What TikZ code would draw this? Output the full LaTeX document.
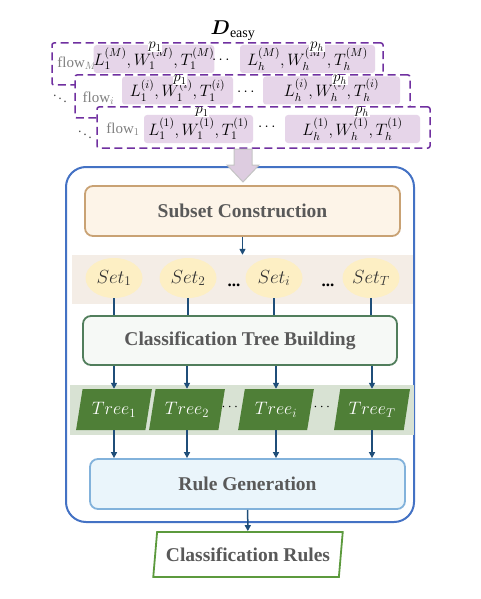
\RequirePackage{fix-cm}
\documentclass[tikz,border=0pt]{standalone}
\usepackage{amsmath}
\usepackage{fontspec}
\setmainfont{Liberation Serif}
\usetikzlibrary{arrows.meta, calc, shapes.geometric}

\definecolor{flowpurple}{HTML}{7030A0}
\definecolor{cellpink}{HTML}{E6D5E9}
\definecolor{mainblue}{HTML}{4472C4}
\definecolor{arrowblue}{HTML}{1F4E79}
\definecolor{subsetfill}{HTML}{FDF4E8}
\definecolor{subsetdraw}{HTML}{C9A274}
\definecolor{setband}{HTML}{F4EDE6}
\definecolor{setfill}{HTML}{FDEFC4}
\definecolor{treebuildfill}{HTML}{F6F9F6}
\definecolor{treebuilddraw}{HTML}{517E5C}
\definecolor{treeband}{HTML}{D8E2D3}
\definecolor{treefill}{HTML}{4F7F37}
\definecolor{rulefill}{HTML}{EAF5FB}
\definecolor{ruledraw}{HTML}{82B2DB}
\definecolor{rulesdraw}{HTML}{5C9A3D}
\definecolor{txtgray}{HTML}{595959}
\definecolor{blockfill}{HTML}{DDCCE0}
\definecolor{blockdraw}{HTML}{C4C4C4}

\begin{document}
\begin{tikzpicture}[x=1pt, y=-1pt, >={Triangle[length=6pt, width=6pt]},
  flowbox/.style={draw=flowpurple, dash pattern=on 8pt off 4.5pt, line width=1.5pt, fill=white, rounded corners=2pt, inner sep=0pt},
  cell/.style={fill=cellpink, rounded corners=3pt, minimum height=28pt, inner sep=0pt, font=\fontsize{16.5}{18}\selectfont},
  plabel/.style={fill=white, inner sep=0.8pt, font=\fontsize{15}{17}\selectfont},
  flowlabel/.style={text=gray, inner sep=0pt, font=\fontsize{15}{17}\selectfont},
  stage/.style={rounded corners=8pt, line width=1.8pt, minimum width=315pt, minimum height=50pt, font=\fontsize{19.5}{22}\selectfont\bfseries, text=txtgray},
  setnode/.style={ellipse, fill=setfill, minimum width=57pt, minimum height=40pt, inner sep=0pt, text=black!80, font=\fontsize{19}{21}\selectfont},
  treenode/.style={trapezium, trapezium left angle=73, trapezium right angle=107, trapezium stretches=true, fill=treefill, minimum width=76pt, minimum height=41pt, inner sep=0pt, text=white, font=\fontsize{18}{20}\selectfont},
  strip/.style={inner sep=0pt, minimum height=49pt},
  link/.style={arrowblue, line width=1.5pt},
  ]
  \useasboundingbox (0,0) rectangle (480,599);

  \node[font=\fontsize{20}{22}\selectfont] (deasy) at (233,31) {$\boldsymbol{D}_{\mathrm{easy}}$};

  \node[flowbox, minimum width=331pt, minimum height=42pt] (flowMbox) at (217.5,64) {};
  \node[flowlabel] (flowM) at (77,63) {flow$_M$};
  \node[cell, minimum width=112pt] (cellM1) at (154,59) {$L_1^{(M)},W_1^{(M)},T_1^{(M)}$};
  \node[font=\fontsize{15}{17}\selectfont] (dotsM) at (222,60) {$\cdots$};
  \node[cell, minimum width=135pt] (cellMh) at (307.5,59) {$L_h^{(M)},W_h^{(M)},T_h^{(M)}$};
  \node[plabel] (pM1) at (155,47) {$p_1$};
  \node[plabel] (pMh) at (317,47) {$p_h$};

  \node[flowbox, minimum width=335pt, minimum height=43pt] (flowibox) at (242.5,96.5) {};
  \node[flowlabel] (flowi) at (98.5,98) {flow$_i$};
  \node[cell, minimum width=111pt] (celli1) at (177.5,90.5) {$L_1^{(i)},W_1^{(i)},T_1^{(i)}$};
  \node[font=\fontsize{15}{17}\selectfont] (dotsi) at (247,92) {$\cdots$};
  \node[cell, minimum width=137pt] (cellih) at (331.5,90.5) {$L_h^{(i)},W_h^{(i)},T_h^{(i)}$};
  \node[plabel] (pi1) at (180,80) {$p_1$};
  \node[plabel] (pih) at (340,80) {$p_h$};

  \node[flowbox, minimum width=333pt, minimum height=41pt] (flow1box) at (263.5,127.5) {};
  \node[flowlabel] (flow1) at (123,129) {flow$_1$};
  \node[cell, minimum width=109pt] (cell11) at (198.5,129) {$L_1^{(1)},W_1^{(1)},T_1^{(1)}$};
  \node[font=\fontsize{15}{17}\selectfont] (dots1) at (268,127) {$\cdots$};
  \node[cell, minimum width=135pt] (cell1h) at (352.5,129) {$L_h^{(1)},W_h^{(1)},T_h^{(1)}$};
  \node[plabel] (p11) at (202,112) {$p_1$};
  \node[plabel] (p1h) at (362,112) {$p_h$};

  \node[text=black!70, font=\fontsize{14}{16}\selectfont] (ddotsi) at (60,96) {$\ddots$};
  \node[text=black!70, font=\fontsize{14}{16}\selectfont] (ddots1) at (85,132) {$\ddots$};

  \node[draw=mainblue, line width=2pt, rounded corners=20pt, minimum width=348pt, minimum height=355pt] (mainbox) at (240,344.5) {};
  \fill[blockfill, draw=blockdraw, line width=1pt] (234,149) -- (252,149) -- (252,165) -- (259,165) -- (243,182) -- (227,165) -- (234,165) -- cycle;

  \node[stage, draw=subsetdraw, fill=subsetfill] (subset) at (242.5,211) {Subset Construction};
  \node[strip, fill=setband, minimum width=341pt] (setstrip) at (242.5,279.5) {};
  \node[stage, draw=treebuilddraw, fill=treebuildfill, minimum width=314pt, minimum height=49pt] (treebuild) at (240,340.5) {Classification Tree Building};
  \node[strip, fill=treeband, minimum width=344pt, minimum height=50pt] (treestrip) at (242,410) {};
  \node[stage, draw=ruledraw, fill=rulefill] (rulegen) at (247.5,484) {Rule Generation};
  \node[trapezium, trapezium left angle=76, trapezium right angle=104, trapezium stretches=true, draw=rulesdraw, line width=1.8pt, fill=white, minimum width=190pt, minimum height=45pt, inner sep=0pt, font=\fontsize{19.5}{22}\selectfont\bfseries, text=txtgray] (rules) at (248,554.5) {Classification Rules};

  \node[setnode] (set1) at (114,278) {$Set_1$};
  \node[setnode] (set2) at (188,278) {$Set_2$};
  \node[setnode] (seti) at (274,278) {$Set_i$};
  \node[setnode] (setT) at (371,278) {$Set_T$};
  \node[font=\fontsize{17}{19}\selectfont\bfseries] (setdotsa) at (234,285) {...};
  \node[font=\fontsize{17}{19}\selectfont\bfseries] (setdotsb) at (328,285) {...};

  \node[treenode] (tree1) at (114,409.5) {$Tree_1$};
  \node[treenode] (tree2) at (187,409.5) {$Tree_2$};
  \node[treenode] (treei) at (276,409.5) {$Tree_i$};
  \node[treenode] (treeT) at (372,409.5) {$Tree_T$};
  \node[inner sep=0pt, font=\fontsize{14}{16}\selectfont] (treedotsa) at (231,407) {$\cdots$};
  \node[inner sep=0pt, font=\fontsize{14}{16}\selectfont] (treedotsb) at (323,407) {$\cdots$};

  \draw[->, link] (subset) -- (subset.south |- setstrip.north);
  \draw[link] (set1) -- (set1 |- treebuild.north);
  \draw[link] (set2) -- (set2 |- treebuild.north);
  \draw[link] (seti) -- (seti |- treebuild.north);
  \draw[link] (setT) -- (setT |- treebuild.north);
  \draw[->, link] (tree1.north |- treebuild.south) -- (tree1.north);
  \draw[->, link] (tree2.north |- treebuild.south) -- (tree2.north);
  \draw[->, link] (treei.north |- treebuild.south) -- (treei.north);
  \draw[->, link] (treeT.north |- treebuild.south) -- (treeT.north);
  \draw[->, link] (tree1.south) -- (tree1.south |- rulegen.north);
  \draw[->, link] (tree2.south) -- (tree2.south |- rulegen.north);
  \draw[->, link] (treei.south) -- (treei.south |- rulegen.north);
  \draw[->, link] (treeT.south) -- (treeT.south |- rulegen.north);
  \draw[->, link] (rulegen) -- (rules);
\end{tikzpicture}
\end{document}
